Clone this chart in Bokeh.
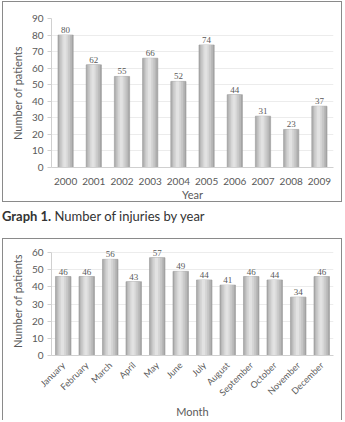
from math import pi
from bokeh.plotting import figure
from bokeh.layouts import column
from bokeh.models import ColumnDataSource, Range1d, Div, LabelSet
from bokeh.transform import dodge
from bokeh.embed import file_html
from bokeh.resources import INLINE

years = ["2000", "2001", "2002", "2003", "2004", "2005", "2006", "2007", "2008", "2009"]
year_counts = [80, 62, 55, 66, 52, 74, 44, 31, 23, 37]
months = ["January", "February", "March", "April", "May", "June", "July",
          "August", "September", "October", "November", "December"]
month_counts = [46, 46, 56, 43, 57, 49, 44, 41, 46, 44, 34, 46]
year_ticks = [0, 10, 20, 30, 40, 50, 60, 70, 80, 90]
month_ticks = [0, 10, 20, 30, 40, 50, 60]

FONT = "Lato"
TXT = "#595959"

LAYERS = [(1.0, 0.0, "#a6a6a6"), (0.85, -0.015, "#b8b8b8"), (0.65, -0.03, "#c8c8c8"),
          (0.42, -0.045, "#d6d6d6"), (0.2, -0.05, "#e2e2e2")]


def make_chart(cats, vals, ticks, ymax, yend, width, height, bw, borders, xtitle, rotate, border_css):
    src = ColumnDataSource(dict(x=cats, y=vals, lbl=[str(v) for v in vals]))
    p = figure(x_range=cats, y_range=Range1d(0, yend), width=width, height=height,
               output_backend="svg", toolbar_location=None,
               min_border_left=borders[0], min_border_right=borders[1],
               min_border_top=borders[2], min_border_bottom=borders[3])
    for f, off, col in LAYERS:
        p.vbar(x=dodge("x", off * bw, range=p.x_range), top="y", width=bw * f,
               source=src, fill_color=col, line_color=None if f < 1 else "#9a9a9a",
               line_width=0.6)
    labels = LabelSet(x="x", y="y", text="lbl", source=src, y_offset=2,
                      text_align="center", text_baseline="bottom",
                      text_font=FONT, text_font_size="9px", text_color=TXT)
    p.add_layout(labels)
    p.outline_line_color = None
    p.xgrid.grid_line_color = None
    p.ygrid.grid_line_color = "#ececec"
    p.yaxis.ticker = ticks
    p.yaxis.bounds = (0, ymax)
    p.yaxis.axis_line_color = "#d0d0d0"
    p.yaxis.major_tick_line_color = "#d0d0d0"
    p.yaxis.major_tick_out = 4
    p.yaxis.major_tick_in = 0
    p.yaxis.minor_tick_line_color = None
    p.xaxis.axis_line_color = "#d0d0d0"
    p.xaxis.major_tick_line_color = None
    p.xaxis.minor_tick_line_color = None
    p.yaxis.axis_label = "Number of patients"
    p.xaxis.axis_label = xtitle
    for ax in (p.xaxis, p.yaxis):
        ax.major_label_text_font = FONT
        ax.major_label_text_color = TXT
        ax.major_label_text_font_size = "10px"
        ax.axis_label_text_font = FONT
        ax.axis_label_text_color = TXT
        ax.axis_label_text_font_size = "11px"
        ax.axis_label_text_font_style = "normal"
    p.yaxis.major_label_standoff = 4
    p.xaxis.major_label_standoff = 4
    p.xaxis.axis_label_standoff = 0
    if rotate:
        p.xaxis.major_label_orientation = pi / 4
        p.xaxis.major_label_text_font_size = "9px"
        p.xaxis.major_label_standoff = 2
    p.styles = dict(border_css, **{"box-sizing": "border-box"})
    return p


full_border = {"border": "1.5px solid #8a8a8a"}
open_border = {"border": "1.5px solid #8a8a8a", "border-bottom": "none"}

p1 = make_chart(years, year_counts, year_ticks, 90, 90, 340, 201, 0.54, (48, 10, 16, 35),
                "Year", False, full_border)
cap = Div(text='<div style="position:relative;top:6px;font-family:Lato;font-size:13px;color:#333;line-height:16px"><b>Graph 1.</b> Number of injuries by year</div>',
          width=340, height=36, margin=0)
p2 = make_chart(months, month_counts, month_ticks, 60, 63.5, 340, 182, 0.66, (46, 10, 7, 66),
                "Month", True, open_border)

layout = column(p1, cap, p2, spacing=0)
layout.styles = {"margin-left": "2px", "margin-top": "1px"}
open("out.html", "w").write(file_html(layout, INLINE))
